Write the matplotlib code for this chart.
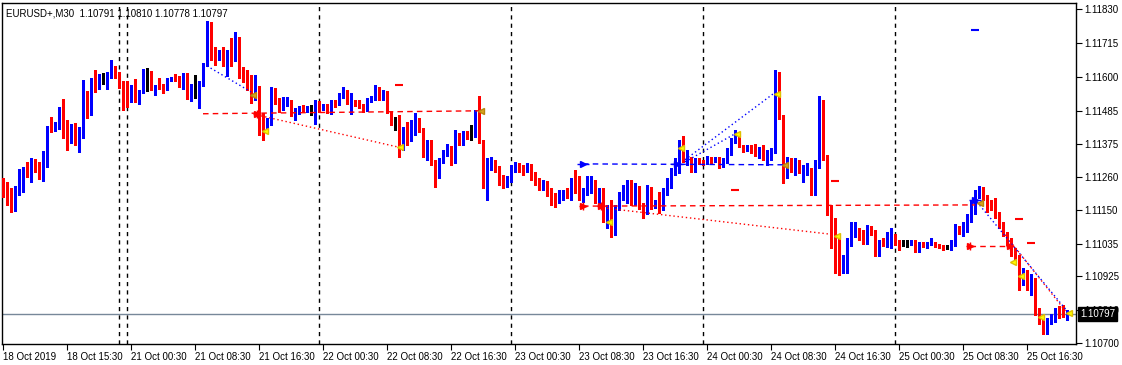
import numpy as np
import matplotlib
matplotlib.use("Agg")
import matplotlib.pyplot as plt

plt.rcParams['font.family'] = ['Liberation Sans', 'DejaVu Sans']

title = "EURUSD+,M30  1.10791 1.10810 1.10778 1.10797"
last_price = 1.10797

# OHLC of the 30 minute bars (open = previous close)
first_open = 1.11252
closes = [
    1.11201, 1.11174, 1.11170, 1.11204, 1.11242, 1.11293, 1.11276, 1.11306, 1.11296, 1.11255,
    1.11320, 1.11431, 1.11428, 1.11442, 1.11472, 1.11442, 1.11394, 1.11408, 1.11381, 1.11398,
    1.11543, 1.11486, 1.11581, 1.11567, 1.11584, 1.11584, 1.11611, 1.11638, 1.11611, 1.11567,
    1.11560, 1.11520, 1.11574, 1.11516, 1.11557, 1.11621, 1.11621, 1.11557, 1.11574, 1.11570,
    1.11564, 1.11594, 1.11598, 1.11591, 1.11570, 1.11608, 1.11530, 1.11574, 1.11574, 1.11581,
    1.11642, 1.11777, 1.11672, 1.11665, 1.11686, 1.11642, 1.11686, 1.11652, 1.11676, 1.11615,
    1.11601, 1.11570, 1.11550, 1.11567, 1.11465, 1.11428, 1.11448, 1.11564, 1.11513, 1.11496,
    1.11513, 1.11520, 1.11476, 1.11486, 1.11492, 1.11486, 1.11489, 1.11489, 1.11509, 1.11492,
    1.11496, 1.11482, 1.11516, 1.11506, 1.11540, 1.11553, 1.11513, 1.11516, 1.11513, 1.11503,
    1.11489, 1.11523, 1.11530, 1.11564, 1.11526, 1.11550, 1.11482, 1.11445, 1.11445, 1.11364,
    1.11428, 1.11408, 1.11438, 1.11448, 1.11421, 1.11337, 1.11381, 1.11310, 1.11262, 1.11320,
    1.11343, 1.11360, 1.11313, 1.11404, 1.11377, 1.11398, 1.11394, 1.11394, 1.11442, 1.11381,
    1.11235, 1.11313, 1.11320, 1.11293, 1.11248, 1.11238, 1.11252, 1.11286, 1.11303, 1.11293,
    1.11286, 1.11299, 1.11265, 1.11245, 1.11231, 1.11242, 1.11211, 1.11191, 1.11184, 1.11198,
    1.11211, 1.11204, 1.11248, 1.11242, 1.11194, 1.11208, 1.11225, 1.11252, 1.11184, 1.11208,
    1.11116, 1.11150, 1.11072, 1.11160, 1.11194, 1.11208, 1.11231, 1.11177, 1.11231, 1.11163,
    1.11140, 1.11221, 1.11160, 1.11167, 1.11157, 1.11208, 1.11242, 1.11279, 1.11293, 1.11347,
    1.11323, 1.11330, 1.11286, 1.11320, 1.11313, 1.11310, 1.11323, 1.11313, 1.11320, 1.11303,
    1.11320, 1.11347, 1.11381, 1.11404, 1.11371, 1.11354, 1.11360, 1.11350, 1.11343, 1.11354,
    1.11330, 1.11337, 1.11354, 1.11598, 1.11465, 1.11269, 1.11320, 1.11286, 1.11316, 1.11279,
    1.11286, 1.11293, 1.11211, 1.11296, 1.11492, 1.11330, 1.11143, 1.11076, 1.11022, 1.10957,
    1.10981, 1.11039, 1.11069, 1.11082, 1.11062, 1.11042, 1.11089, 1.11072, 1.10998, 1.11042,
    1.11035, 1.11049, 1.11066, 1.11039, 1.11035, 1.11035, 1.11035, 1.11042, 1.11015, 1.11039,
    1.11032, 1.11035, 1.11042, 1.11032, 1.11028, 1.11022, 1.11022, 1.11039, 1.11089, 1.11076,
    1.11096, 1.11116, 1.11140, 1.11208, 1.11218, 1.11191, 1.11163, 1.11157, 1.11133, 1.11099,
    1.11076, 1.11042, 1.11005, 1.10981, 1.10913, 1.10940, 1.10896, 1.10920, 1.10805, 1.10777,
    1.10737, 1.10777, 1.10784, 1.10805, 1.10798, 1.10791, 1.10797,
]
highs = [
    1.11259, 1.11245, 1.11225, 1.11231, 1.11289, 1.11296, 1.11313, 1.11326, 1.11323, 1.11313,
    1.11350, 1.11435, 1.11465, 1.11448, 1.11499, 1.11526, 1.11455, 1.11442, 1.11445, 1.11431,
    1.11591, 1.11553, 1.11598, 1.11625, 1.11611, 1.11615, 1.11618, 1.11659, 1.11638, 1.11618,
    1.11587, 1.11587, 1.11574, 1.11594, 1.11557, 1.11628, 1.11631, 1.11621, 1.11574, 1.11598,
    1.11577, 1.11598, 1.11601, 1.11611, 1.11604, 1.11615, 1.11615, 1.11577, 1.11608, 1.11587,
    1.11648, 1.11791, 1.11787, 1.11703, 1.11692, 1.11703, 1.11692, 1.11733, 1.11754, 1.11737,
    1.11635, 1.11625, 1.11608, 1.11608, 1.11570, 1.11479, 1.11462, 1.11567, 1.11564, 1.11530,
    1.11533, 1.11533, 1.11523, 1.11496, 1.11503, 1.11506, 1.11503, 1.11506, 1.11523, 1.11520,
    1.11509, 1.11509, 1.11523, 1.11523, 1.11547, 1.11567, 1.11557, 1.11547, 1.11523, 1.11523,
    1.11509, 1.11530, 1.11537, 1.11574, 1.11567, 1.11557, 1.11553, 1.11486, 1.11465, 1.11472,
    1.11431, 1.11448, 1.11455, 1.11479, 1.11462, 1.11428, 1.11387, 1.11387, 1.11320, 1.11326,
    1.11354, 1.11374, 1.11367, 1.11421, 1.11411, 1.11418, 1.11418, 1.11438, 1.11489, 1.11537,
    1.11387, 1.11326, 1.11330, 1.11320, 1.11299, 1.11269, 1.11265, 1.11303, 1.11313, 1.11310,
    1.11303, 1.11310, 1.11306, 1.11279, 1.11259, 1.11252, 1.11248, 1.11225, 1.11208, 1.11218,
    1.11218, 1.11225, 1.11259, 1.11286, 1.11265, 1.11225, 1.11265, 1.11265, 1.11245, 1.11225,
    1.11225, 1.11167, 1.11184, 1.11167, 1.11211, 1.11235, 1.11252, 1.11252, 1.11242, 1.11231,
    1.11174, 1.11235, 1.11228, 1.11184, 1.11211, 1.11225, 1.11259, 1.11293, 1.11326, 1.11387,
    1.11401, 1.11354, 1.11320, 1.11326, 1.11326, 1.11320, 1.11333, 1.11330, 1.11330, 1.11330,
    1.11326, 1.11360, 1.11394, 1.11421, 1.11411, 1.11371, 1.11371, 1.11371, 1.11374, 1.11364,
    1.11371, 1.11354, 1.11360, 1.11625, 1.11618, 1.11472, 1.11330, 1.11326, 1.11326, 1.11320,
    1.11303, 1.11310, 1.11293, 1.11320, 1.11537, 1.11523, 1.11337, 1.11167, 1.11123, 1.11055,
    1.10998, 1.11055, 1.11109, 1.11109, 1.11089, 1.11082, 1.11099, 1.11096, 1.11082, 1.11049,
    1.11055, 1.11076, 1.11089, 1.11069, 1.11049, 1.11049, 1.11049, 1.11049, 1.11049, 1.11042,
    1.11042, 1.11042, 1.11055, 1.11042, 1.11035, 1.11032, 1.11032, 1.11049, 1.11103, 1.11096,
    1.11109, 1.11136, 1.11184, 1.11218, 1.11231, 1.11228, 1.11201, 1.11184, 1.11191, 1.11143,
    1.11109, 1.11076, 1.11055, 1.11022, 1.10998, 1.10954, 1.10947, 1.10933, 1.10920, 1.10818,
    1.10784, 1.10784, 1.10798, 1.10818, 1.10825, 1.10828, 1.10810,
]
lows = [
    1.11194, 1.11167, 1.11143, 1.11147, 1.11201, 1.11211, 1.11262, 1.11245, 1.11279, 1.11255,
    1.11248, 1.11296, 1.11415, 1.11418, 1.11425, 1.11394, 1.11354, 1.11377, 1.11371, 1.11347,
    1.11394, 1.11462, 1.11472, 1.11550, 1.11560, 1.11577, 1.11560, 1.11598, 1.11598, 1.11564,
    1.11489, 1.11499, 1.11516, 1.11516, 1.11509, 1.11547, 1.11553, 1.11557, 1.11540, 1.11560,
    1.11547, 1.11557, 1.11587, 1.11587, 1.11567, 1.11560, 1.11526, 1.11520, 1.11530, 1.11496,
    1.11570, 1.11638, 1.11659, 1.11642, 1.11659, 1.11638, 1.11604, 1.11638, 1.11659, 1.11598,
    1.11584, 1.11557, 1.11513, 1.11523, 1.11404, 1.11387, 1.11421, 1.11438, 1.11509, 1.11482,
    1.11489, 1.11503, 1.11469, 1.11455, 1.11476, 1.11482, 1.11482, 1.11472, 1.11442, 1.11482,
    1.11489, 1.11479, 1.11476, 1.11499, 1.11506, 1.11530, 1.11509, 1.11476, 1.11503, 1.11496,
    1.11482, 1.11486, 1.11516, 1.11523, 1.11523, 1.11523, 1.11479, 1.11438, 1.11421, 1.11330,
    1.11354, 1.11371, 1.11384, 1.11404, 1.11415, 1.11330, 1.11320, 1.11303, 1.11228, 1.11259,
    1.11310, 1.11333, 1.11303, 1.11310, 1.11371, 1.11371, 1.11391, 1.11387, 1.11401, 1.11377,
    1.11225, 1.11184, 1.11286, 1.11279, 1.11235, 1.11225, 1.11228, 1.11245, 1.11279, 1.11279,
    1.11269, 1.11279, 1.11252, 1.11235, 1.11218, 1.11218, 1.11198, 1.11167, 1.11160, 1.11174,
    1.11184, 1.11191, 1.11184, 1.11208, 1.11184, 1.11177, 1.11201, 1.11208, 1.11174, 1.11167,
    1.11109, 1.11089, 1.11059, 1.11066, 1.11150, 1.11184, 1.11174, 1.11167, 1.11167, 1.11153,
    1.11123, 1.11136, 1.11153, 1.11157, 1.11140, 1.11150, 1.11201, 1.11225, 1.11269, 1.11276,
    1.11313, 1.11303, 1.11279, 1.11279, 1.11306, 1.11303, 1.11306, 1.11310, 1.11313, 1.11293,
    1.11296, 1.11310, 1.11337, 1.11377, 1.11364, 1.11347, 1.11350, 1.11343, 1.11333, 1.11326,
    1.11320, 1.11303, 1.11320, 1.11343, 1.11458, 1.11242, 1.11259, 1.11279, 1.11269, 1.11276,
    1.11245, 1.11269, 1.11201, 1.11201, 1.11293, 1.11320, 1.11133, 1.11022, 1.10937, 1.10930,
    1.10937, 1.10937, 1.11028, 1.11059, 1.11049, 1.11035, 1.11035, 1.11066, 1.10994, 1.10994,
    1.11028, 1.11025, 1.11022, 1.11032, 1.11015, 1.11028, 1.11025, 1.11032, 1.11008, 1.11008,
    1.11025, 1.11022, 1.11032, 1.11025, 1.11022, 1.11015, 1.11018, 1.11015, 1.11028, 1.11069,
    1.11062, 1.11076, 1.11109, 1.11136, 1.11191, 1.11184, 1.11143, 1.11150, 1.11123, 1.11089,
    1.11062, 1.11032, 1.10994, 1.10967, 1.10879, 1.10896, 1.10879, 1.10862, 1.10794, 1.10764,
    1.10730, 1.10730, 1.10764, 1.10771, 1.10784, 1.10788, 1.10778,
]
opens = [first_open] + closes[:-1]

x_tick_labels = ["18 Oct 2019", "18 Oct 15:30", "21 Oct 00:30", "21 Oct 08:30", "21 Oct 16:30",
                 "22 Oct 00:30", "22 Oct 08:30", "22 Oct 16:30", "23 Oct 00:30", "23 Oct 08:30",
                 "23 Oct 16:30", "24 Oct 00:30", "24 Oct 08:30", "24 Oct 16:30", "25 Oct 00:30",
                 "25 Oct 08:30", "25 Oct 16:30"]
y_ticks = [1.11830, 1.11715, 1.11600, 1.11485, 1.11375, 1.11260, 1.11150,
           1.11035, 1.10925, 1.10810, 1.10700]
separator_bars = [29, 31, 79, 127, 175, 223]

# indicator objects (bar index, price)
blue_dash_lines = [(145, 1.11306, 195.5, 1.11303)]
blue_dot_lines = [(51, 1.11638, 62, 1.11550), (170.5, 1.11320, 192.5, 1.11543),
                  (170.5, 1.11313, 183, 1.11408), (243.5, 1.11177, 266, 1.10808)]
red_dash_lines = [(50, 1.11476, 119.5, 1.11486), (145, 1.11163, 243, 1.11167),
                  (241.75, 1.11028, 251.75, 1.11028)]
red_dot_lines = [(63.5, 1.11472, 98.5, 1.11364), (150, 1.11157, 208, 1.11066),
                 (250.5, 1.11066, 266, 1.10801)]
yellow_arrows = [(65.5, 1.11418), (99.25, 1.11364), (151.5, 1.11109), (169.5, 1.11360),
                 (183.5, 1.11408), (193.5, 1.11543), (208.5, 1.11062), (252.5, 1.10974),
                 (254.5, 1.10926), (259.5, 1.10788), (266.5, 1.10801)]
orange_arrows = [(62.5, 1.11540), (119.5, 1.11486), (195.5, 1.11303), (244.25, 1.11174)]
blue_marks = [(145, 1.11306), (168.5, 1.11306), (243, 1.11184)]
red_marks = [(63.5, 1.11476), (145, 1.11163), (149.5, 1.11163), (241.75, 1.11028), (251.75, 1.11028)]
red_ticks = [(99, 1.11574), (183, 1.11218), (208, 1.11248), (254, 1.11119), (257, 1.11039)]
blue_ticks = [(243, 1.11760)]

fig = plt.figure(figsize=(11.22, 3.65), dpi=100)
ax = fig.add_axes([2 / 1122, 21 / 365, 1074 / 1122, 341 / 365])

x = np.arange(len(closes))
o = np.array(opens)
c = np.array(closes)
h = np.array(highs)
l = np.array(lows)
colors = np.where(c > o + 1e-6, 'blue', np.where(c < o - 1e-6, 'red', 'black'))

# separators and current price line
for b in separator_bars:
    ax.axvline(b, color='black', lw=1, ls=(0, (3, 3)), zorder=1)
ax.axhline(last_price, color='#778899', lw=1, zorder=1)

# candles
ax.vlines(x, l, h, colors=colors, lw=1, antialiased=False, zorder=3)
body_lo = np.minimum(o, c)
body_h = np.maximum(np.abs(c - o), 0.00003)
ax.bar(x, body_h, bottom=body_lo, width=0.75, color=colors, linewidth=0,
       antialiased=False, zorder=3)

# indicator lines
for x0, y0, x1, y1 in blue_dash_lines:
    ax.plot([x0, x1], [y0, y1], color='blue', lw=1, ls=(0, (4, 3)), zorder=4)
for x0, y0, x1, y1 in blue_dot_lines:
    ax.plot([x0, x1], [y0, y1], color='blue', lw=1, ls=(0, (1, 2)), zorder=4)
for x0, y0, x1, y1 in red_dash_lines:
    ax.plot([x0, x1], [y0, y1], color='red', lw=1, ls=(0, (4, 3)), zorder=4)
for x0, y0, x1, y1 in red_dot_lines:
    ax.plot([x0, x1], [y0, y1], color='red', lw=1, ls=(0, (1, 2)), zorder=4)

ya = np.array(yellow_arrows)
ax.plot(ya[:, 0], ya[:, 1], '<', color='#FFFF00', mec='#E0C000', ms=5, ls='none', zorder=5)
oa = np.array(orange_arrows)
ax.plot(oa[:, 0], oa[:, 1], '<', color='#DAA520', mec='#B8860B', ms=5, ls='none', zorder=5)
bm = np.array(blue_marks)
ax.plot(bm[:, 0], bm[:, 1], '>', color='blue', ms=4, ls='none', zorder=5)
ax.plot(bm[:, 0], bm[:, 1], '_', color='blue', ms=8, ls='none', zorder=5)
rm = np.array(red_marks)
ax.plot(rm[:, 0], rm[:, 1], '>', color='red', ms=4, ls='none', zorder=5)
ax.plot(rm[:, 0], rm[:, 1], '+', color='red', ms=6, ls='none', zorder=5)
rt = np.array(red_ticks)
ax.plot(rt[:, 0], rt[:, 1], '_', color='red', ms=6, mew=1.5, ls='none', zorder=5)
bt = np.array(blue_ticks)
ax.plot(bt[:, 0], bt[:, 1], '_', color='blue', ms=6, mew=1.5, ls='none', zorder=5)

# axes
ax.set_xlim(-0.25, 268.25)
ax.set_ylim(1.106957, 1.118513)
ax.set_xticks(np.arange(0, 16 * len(x_tick_labels), 16))
ax.set_xticklabels(x_tick_labels)
for t in ax.get_xticklabels():
    t.set_ha('left')
ax.yaxis.tick_right()
ax.set_yticks(y_ticks)
ax.set_yticklabels([f"{v:.5f}" for v in y_ticks])
ax.tick_params(axis='x', direction='out', length=4, labelsize=7, pad=2, color='black')
ax.tick_params(axis='y', direction='out', length=4, labelsize=7, pad=2, color='black')
for s in ax.spines.values():
    s.set_color('black')
    s.set_linewidth(1)

ax.text(0.004, 0.985, title, transform=ax.transAxes, va='top', ha='left', fontsize=7, zorder=6)
ax.text(1.0 + 4 / 1074, last_price, f"{last_price:.5f}", transform=ax.get_yaxis_transform(),
        ha='left', va='center', color='white', fontsize=7, clip_on=False, zorder=10,
        bbox=dict(boxstyle='square,pad=0.2', fc='black', ec='black'))

fig.savefig("out.png", dpi=100, facecolor='white')
